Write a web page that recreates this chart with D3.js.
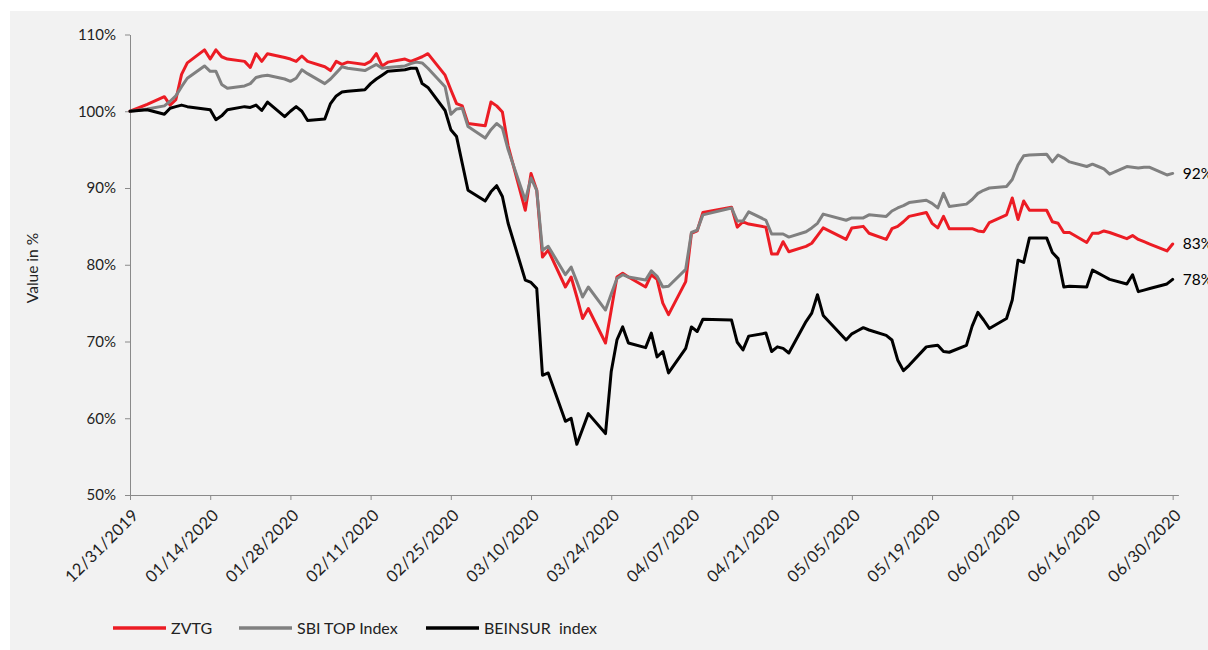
<!DOCTYPE html>
<html><head><meta charset="utf-8">
<script src="https://cdn.jsdelivr.net/npm/d3@7"></script>
<style>
body{margin:0;background:#fff}
svg{display:block}
text{font-family:Lato,"Open Sans",sans-serif}
</style>
</head><body>
<svg id="chart" width="1208" height="650"></svg>
<script>
// ---------- data ----------
const dates = [
"2019-12-31",
"2020-01-03","2020-01-06","2020-01-07","2020-01-08","2020-01-09","2020-01-10","2020-01-13","2020-01-14","2020-01-15","2020-01-16","2020-01-17","2020-01-20","2020-01-21","2020-01-22","2020-01-23","2020-01-24","2020-01-27","2020-01-28","2020-01-29","2020-01-30","2020-01-31",
"2020-02-03","2020-02-04","2020-02-05","2020-02-06","2020-02-07","2020-02-10","2020-02-11","2020-02-12","2020-02-13","2020-02-14","2020-02-17","2020-02-18","2020-02-19","2020-02-20","2020-02-21","2020-02-24","2020-02-25","2020-02-26","2020-02-27","2020-02-28",
"2020-03-02","2020-03-03","2020-03-04","2020-03-05","2020-03-06","2020-03-09","2020-03-10","2020-03-11","2020-03-12","2020-03-13","2020-03-16","2020-03-17","2020-03-18","2020-03-19","2020-03-20","2020-03-23","2020-03-24","2020-03-25","2020-03-26","2020-03-27","2020-03-30","2020-03-31",
"2020-04-01","2020-04-02","2020-04-03","2020-04-06","2020-04-07","2020-04-08","2020-04-09","2020-04-14","2020-04-15","2020-04-16","2020-04-17","2020-04-20","2020-04-21","2020-04-22","2020-04-23","2020-04-24","2020-04-27","2020-04-28","2020-04-29","2020-04-30",
"2020-05-04","2020-05-05","2020-05-06","2020-05-07","2020-05-08","2020-05-11","2020-05-12","2020-05-13","2020-05-14","2020-05-15","2020-05-18","2020-05-19","2020-05-20","2020-05-21","2020-05-22","2020-05-25","2020-05-26","2020-05-27","2020-05-28","2020-05-29",
"2020-06-01","2020-06-02","2020-06-03","2020-06-04","2020-06-05","2020-06-08","2020-06-09","2020-06-10","2020-06-11","2020-06-12","2020-06-15","2020-06-16","2020-06-17","2020-06-18","2020-06-19","2020-06-22","2020-06-23","2020-06-24","2020-06-25","2020-06-26","2020-06-29","2020-06-30"
];

const zvtg = [
100.0,
100.9,101.9,100.8,101.5,104.8,106.3,108.0,106.8,108.0,107.1,106.8,106.5,105.7,107.5,106.5,107.5,107.0,106.8,106.5,107.2,106.5,
105.8,105.3,106.5,106.1,106.4,106.1,106.5,107.5,105.9,106.4,106.8,106.5,106.8,107.1,107.5,104.7,102.8,101.0,100.7,98.4,
98.1,101.2,100.7,99.9,95.5,87.1,91.9,89.7,81.0,81.9,77.1,78.4,75.8,73.0,74.3,69.8,74.1,78.4,78.9,78.4,77.1,78.7,
78.1,75.0,73.5,77.8,84.1,84.4,86.8,87.5,84.9,85.6,85.3,84.9,81.4,81.4,83.0,81.7,82.4,82.8,83.8,84.8,
83.3,84.8,84.9,85.0,84.1,83.3,84.7,85.0,85.6,86.3,86.8,85.4,84.8,86.3,84.7,84.7,84.7,84.4,84.3,85.5,
86.5,88.7,85.9,88.3,87.1,87.1,85.6,85.4,84.2,84.2,82.9,84.1,84.1,84.4,84.2,83.4,83.8,83.3,83.0,82.7,81.8,82.7
];

const sbiTop = [
100.0,
100.3,100.7,101.3,102.0,103.2,104.3,105.9,105.2,105.2,103.5,103.0,103.3,103.6,104.4,104.6,104.7,104.2,103.9,104.3,105.4,104.9,
103.6,104.2,105.0,105.8,105.6,105.3,105.7,106.1,105.6,105.7,105.9,106.2,106.4,106.3,105.6,103.2,99.6,100.3,100.4,98.0,
96.5,97.6,98.4,97.8,95.0,88.4,91.3,89.7,81.9,82.4,78.7,79.7,77.8,75.8,77.1,74.1,76.2,78.2,78.7,78.4,78.0,79.2,
78.5,77.1,77.2,79.4,84.2,84.5,86.5,87.4,85.7,85.7,86.9,85.8,84.0,84.0,84.0,83.6,84.3,84.8,85.4,86.6,
85.8,86.1,86.1,86.1,86.5,86.3,87.0,87.4,87.7,88.1,88.4,88.0,87.4,89.3,87.6,87.9,88.5,89.3,89.7,90.0,
90.2,91.1,93.0,94.2,94.3,94.4,93.4,94.3,93.9,93.4,92.8,93.1,92.8,92.5,91.8,92.8,92.7,92.6,92.7,92.7,91.7,91.9
];

const beinsur = [
100.0,
100.2,99.6,100.4,100.6,100.8,100.6,100.3,100.2,98.9,99.4,100.2,100.6,100.5,100.8,100.1,101.2,99.3,100.0,100.6,100.0,98.8,
99.0,101.0,102.0,102.5,102.6,102.8,103.6,104.2,104.7,105.2,105.4,105.6,105.6,103.6,103.1,100.1,97.6,96.7,93.2,89.7,
88.3,89.5,90.3,88.9,85.4,78.0,77.7,76.9,65.6,65.9,59.6,60.0,56.6,58.6,60.6,58.0,66.1,70.2,71.9,69.8,69.2,71.1,
68.0,68.7,65.9,69.1,71.9,71.3,72.9,72.8,69.9,68.9,70.7,71.1,68.7,69.3,69.1,68.5,72.6,73.7,76.1,73.4,
70.2,71.0,71.4,71.8,71.5,70.8,70.2,67.6,66.2,66.9,69.3,69.4,69.5,68.7,68.6,69.5,72.0,73.8,72.8,71.7,
73.0,75.4,80.6,80.3,83.5,83.5,81.6,80.8,77.1,77.2,77.1,79.3,78.9,78.5,78.1,77.5,78.7,76.5,76.7,76.9,77.5,78.1
];

const seriesNames = ["ZVTG", "SBI TOP Index", "BEINSUR  index"];
const seriesColors = ["#ec1c24", "#808080", "#000000"];
const tickDates = ["2019-12-31","2020-01-14","2020-01-28","2020-02-11","2020-02-25","2020-03-10","2020-03-24","2020-04-07","2020-04-21","2020-05-05","2020-05-19","2020-06-02","2020-06-16","2020-06-30"];
const yTicks = [50, 60, 70, 80, 90, 100, 110];
const axisEnd = "2020-07-01";
const yTitle = "Value in %";

// ---------- drawing ----------
const parse = d3.utcParse("%Y-%m-%d");
const svg = d3.select("#chart");

svg.append("rect").attr("x", 10).attr("y", 11).attr("width", 1198).attr("height", 639).attr("fill", "#f2f2f2");

const x = d3.scaleUtc().domain([parse(dates[0]), parse(axisEnd)]).range([130, 1178.4]);
const y = d3.scaleLinear().domain([50, 110]).range([495, 34.5]);

const axisColor = "#8a8a8a";
const textColor = "#222";

// y axis
const gy = svg.append("g").attr("transform", "translate(130,0)")
  .call(d3.axisLeft(y).tickValues(yTicks).tickFormat(d => d + "%").tickSize(5).tickSizeOuter(0).tickPadding(9));
gy.select(".domain").attr("stroke", axisColor);
gy.selectAll(".tick line").attr("stroke", axisColor);
gy.selectAll(".tick text").attr("fill", textColor).style("font-size", "15px").style("font-family", "Lato");

// x axis
const gx = svg.append("g").attr("transform", "translate(0,495)")
  .call(d3.axisBottom(x).tickValues(tickDates.map(parse)).tickFormat(d3.utcFormat("%m/%d/%Y")).tickSize(5).tickSizeOuter(0));
gx.select(".domain").attr("stroke", axisColor);
gx.selectAll(".tick line").attr("stroke", axisColor);
gx.selectAll(".tick text")
  .attr("fill", textColor).style("font-size", "16.5px").style("font-family", "Lato").style("letter-spacing", "0.4px")
  .attr("x", 0).attr("y", 0).attr("dy", "0.35em")
  .attr("text-anchor", "end")
  .attr("transform", "translate(5,17) rotate(-45)");

// y title
svg.append("text").attr("transform", "translate(33,268) rotate(-90)")
  .attr("text-anchor", "middle").attr("dy", "0.35em")
  .attr("fill", textColor).style("font-size", "15.5px").text(yTitle);

// lines
const allSeries = [zvtg, sbiTop, beinsur];
const line = d3.line().x(d => x(d[0])).y(d => y(d[1]));
allSeries.forEach((vals, i) => {
  const pts = dates.map((d, j) => [parse(d), vals[j]]);
  svg.append("path").datum(pts).attr("d", line)
    .attr("fill", "none").attr("stroke", seriesColors[i])
    .attr("stroke-width", 3).attr("stroke-linejoin", "round").attr("stroke-linecap", "round");
});

// end labels
allSeries.forEach((vals, i) => {
  const last = vals[vals.length - 1];
  svg.append("text").attr("x", x(parse(dates[dates.length - 1])) + 10).attr("y", y(last))
    .attr("dy", "0.35em").attr("fill", "#000").style("font-size", "15.5px")
    .text(Math.round(last) + "%");
});

// legend
const legX = [113, 239, 426];
seriesNames.forEach((n, i) => {
  const g = svg.append("g").attr("transform", `translate(${legX[i]},628)`);
  g.append("line").attr("x1", 0).attr("x2", 53).attr("y1", 0).attr("y2", 0)
    .attr("stroke", seriesColors[i]).attr("stroke-width", 3.5);
  g.append("text").attr("x", 58).attr("y", 0).attr("dy", "0.35em")
    .attr("fill", textColor).style("font-size", "16px").style("white-space", "pre").attr("xml:space", "preserve").text(n);
});
</script>
</body></html>
